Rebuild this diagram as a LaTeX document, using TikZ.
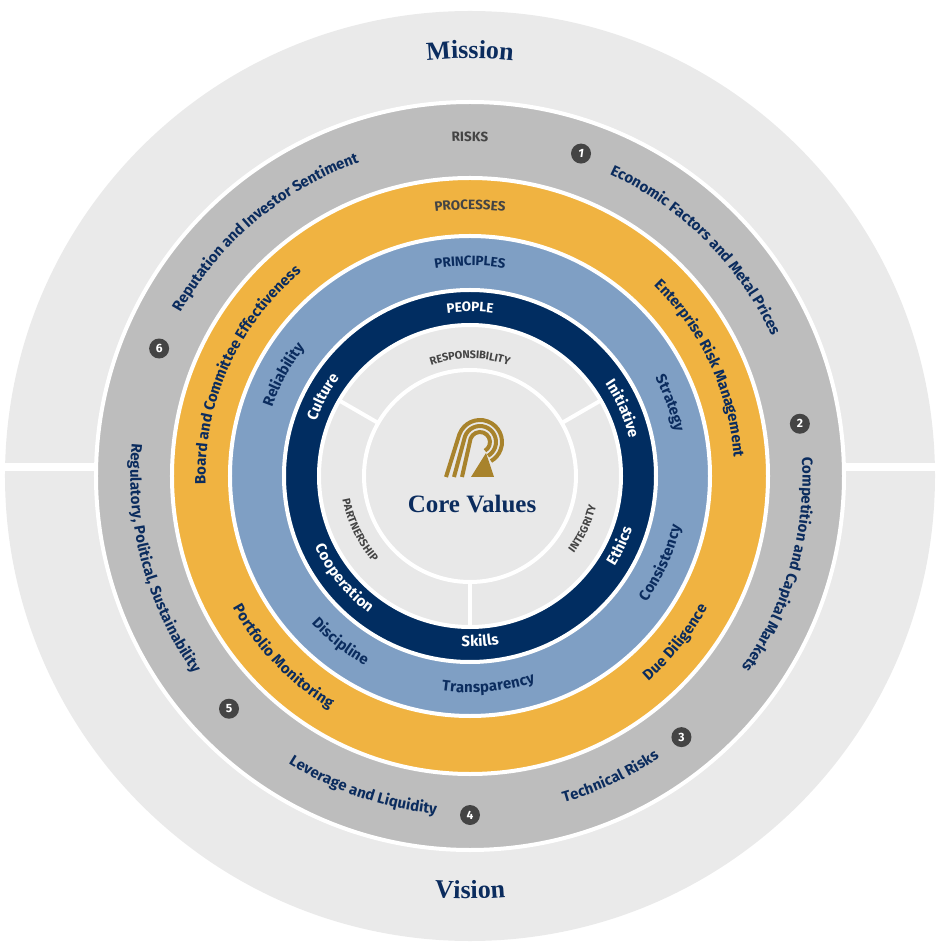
\documentclass[tikz,border=0pt]{standalone}
\usepackage{fontspec}
\setmainfont{Fira Sans}
\newfontfamily\titlefont{Liberation Serif}
\usetikzlibrary{decorations.text}
\definecolor{navy}{HTML}{0B2C5E}
\definecolor{outergrey}{HTML}{EAEAEA}
\definecolor{riskgrey}{HTML}{BDBDBD}
\definecolor{procorange}{HTML}{F0B341}
\definecolor{princblue}{HTML}{7F9FC4}
\definecolor{peoplenavy}{HTML}{012D61}
\definecolor{innergrey}{HTML}{E8E8E8}
\definecolor{logogold}{HTML}{A8832C}
\definecolor{darkgrey}{HTML}{444444}
\tikzstyle{ring} = [draw=white, line width=4pt]
\tikzstyle{badge} = [circle, fill=darkgrey, text=white, inner sep=0pt, minimum size=20pt, font=\fontsize{12}{12}\selectfont\bfseries]
% text along an arc, read clockwise (upper half) or counter-clockwise (lower half)
\newcommand\ringcw[4]{\path[decorate,decoration={text along path,text align=center,raise=-0.36em,text={|#3|#4}}] (#2+80:#1pt) arc[start angle=#2+80,end angle=#2-80,radius=#1pt];}
\newcommand\ringccw[4]{\path[decorate,decoration={text along path,text align=center,raise=-0.36em,text={|#3|#4}}] (#2-80:#1pt) arc[start angle=#2-80,end angle=#2+80,radius=#1pt];}
\newcommand\lbl{\fontsize{15}{15}\selectfont\bfseries\color{navy}}
\newcommand\wlbl{\fontsize{15}{15}\selectfont\bfseries\color{white}}
\newcommand\capl[1]{\fontsize{13.5}{13.5}\selectfont\bfseries\color{#1}}
\newcommand\vall{\fontsize{11}{11}\selectfont\bfseries\color{darkgrey}}

\begin{document}
\begin{tikzpicture}[x=1pt,y=1pt]
        \useasboundingbox (-470,-471) rectangle (468,476);
        \fill[outergrey] (0,0) circle[radius=465pt];
        \fill[white] (-470,5) rectangle (468,13);
        \filldraw[ring, fill=riskgrey] (0,0) circle[radius=374pt];
        \filldraw[ring, fill=procorange] (0,0) circle[radius=298pt];
        \filldraw[ring, fill=princblue] (0,0) circle[radius=240pt];
        \filldraw[ring, fill=peoplenavy] (0,0) circle[radius=186pt];
        \filldraw[ring, fill=innergrey] (0,0) circle[radius=151pt];
        \filldraw[ring, fill=innergrey] (0,0) circle[radius=106pt];
        \foreach \a in {30,150,270}
            \draw[white, line width=4pt] (\a:106pt) -- (\a:151pt);

        % mission and vision
        \ringcw{421}{90}{\titlefont\fontsize{26}{26}\selectfont\bfseries\color{navy}}{Mission}
        \ringccw{419}{270}{\titlefont\fontsize{26}{26}\selectfont\bfseries\color{navy}}{Vision}

        % risks
        \ringcw{338}{90}{\capl{darkgrey}}{RISKS}
        \ringcw{336}{45}{\lbl}{Economic Factors and Metal Prices}
        \ringcw{336}{-16}{\lbl}{Competition and Capital Markets}
        \ringccw{336}{-65}{\lbl}{Technical Risks}
        \ringccw{336}{-109}{\lbl}{Leverage and Liquidity}
        \ringccw{336}{-165}{\lbl}{Regulatory, Political, Sustainability}
        \ringcw{336}{130}{\lbl}{Reputation and Investor Sentiment}
        \node[badge] (b1) at (71:341) {\itshape 1};
        \node[badge] (b2) at (9:334) {2};
        \node[badge] (b3) at (-51:336) {3};
        \node[badge] (b4) at (-90:339) {4};
        \node[badge] (b5) at (-136:335) {5};
        \node[badge] (b6) at (157.7:336) {6};

        % processes
        \ringcw{270}{90}{\capl{darkgrey}}{PROCESSES}
        \ringcw{268}{25}{\lbl}{Enterprise Risk Management}
        \ringccw{268}{-39}{\lbl}{Due Diligence}
        \ringccw{268}{-136}{\lbl}{Portfolio Monitoring}
        \ringcw{268}{155.7}{\lbl}{Board and Committee Effectiveness}

        % principles
        \ringcw{214}{90}{\capl{navy}}{PRINCIPLES}
        \ringcw{213}{20}{\lbl}{Strategy}
        \ringccw{213}{-24.5}{\lbl}{Consistency}
        \ringccw{213}{-85}{\lbl}{Transparency}
        \ringccw{213}{-128}{\lbl}{Discipline}
        \ringcw{213}{151.5}{\lbl}{Reliability}

        % people
        \ringcw{168}{90}{\capl{white}}{PEOPLE}
        \ringcw{167}{23.7}{\wlbl}{Initiative}
        \ringccw{167}{-25}{\wlbl}{Ethics}
        \ringccw{167}{-86.5}{\wlbl}{Skills}
        \ringccw{167}{-141}{\wlbl}{Cooperation}
        \ringcw{167}{151.7}{\wlbl}{Culture}

        % values
        \ringcw{121}{90}{\vall}{RESPONSIBILITY}
        \ringccw{126}{-154}{\vall}{PARTNERSHIP}
        \ringccw{126}{-25}{\vall}{INTEGRITY}

        % logo
        \fill[logogold] (16,23) -- (1,-1) -- (24,-1) -- cycle;
        \foreach \i in {0,1,2}
            \draw[logogold, line width=4pt] ({-24+8*\i},-1) -- ({12+(22-6*\i)*cos(160)-2},{34+(22-6*\i)*sin(160)})
                arc[start angle=160, end angle=-60, radius={22-6*\i}];
        \node[font=\titlefont\fontsize{25}{25}\selectfont\bfseries, text=navy] (core) at (2,-28) {Core Values};
    \end{tikzpicture}
\end{document}
